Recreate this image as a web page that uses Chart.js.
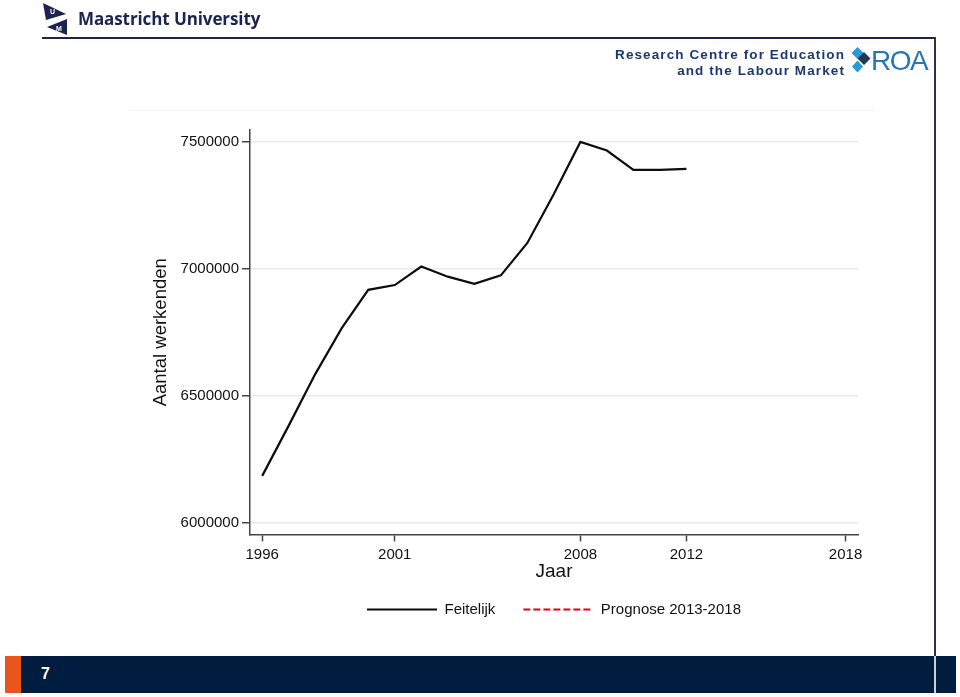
<!DOCTYPE html>
<html>
<head>
<meta charset="utf-8">
<title>Aantal werkenden</title>
<script src="https://cdn.jsdelivr.net/npm/chart.js@4.4.1/dist/chart.umd.min.js"></script>
<style>
  html, body { margin: 0; padding: 0; background: #fff; }
  body { width: 960px; height: 697px; position: relative; overflow: hidden; font-family: "Liberation Sans", Arial, sans-serif; }
  #chartBox { position: absolute; left: 0; top: 0; width: 960px; height: 697px; }

  /* page furniture */
  .frame-top { position: absolute; left: 42px; top: 37px; width: 894px; height: 2px; background: #1c2544; }
  .frame-right { position: absolute; left: 934px; top: 37px; width: 2px; height: 619px; background: #2a3150; }
  .plot-top { position: absolute; left: 130px; top: 110px; width: 745px; height: 1px; background: #f3f3f3; }
  .um-logo { position: absolute; left: 40px; top: 0; }
  .um-name { position: absolute; left: 78px; top: 7px; font-family: "Open Sans", sans-serif; font-weight: 700; font-size: 17px; color: #1d2350; letter-spacing: -0.1px; white-space: nowrap; }
  .roa-text { position: absolute; right: 115px; font-weight: 700; font-size: 13.5px; color: #1b3a6b; letter-spacing: 1.1px; white-space: nowrap; text-align: right; }
  .roa-logo { position: absolute; left: 850px; top: 46px; }
  .roa-word { position: absolute; left: 871px; top: 45px; font-size: 28px; color: #2876b4; letter-spacing: -1.5px; }
  .bar { position: absolute; left: 5px; top: 656px; width: 951px; height: 37px; background: #001d3f; }
  .bar-orange { position: absolute; left: 5px; top: 656px; width: 16px; height: 37px; background: #e8561b; }
  .bar-split { position: absolute; left: 934px; top: 656px; width: 2px; height: 37px; background: #c7cfdc; }
  .page-no { position: absolute; left: 41px; top: 665px; font-weight: 700; font-size: 16px; color: #fff; }
</style>
</head>
<body>
<div id="chartBox"><canvas id="chart"></canvas></div>

<div class="frame-top"></div>
<div class="frame-right"></div>
<div class="plot-top"></div>

<svg class="um-logo" width="30" height="38" viewBox="40 0 30 38">
  <polygon points="43,3 66,14 46,20" fill="#1d2350"/>
  <polygon points="67,19 67,35 47,27" fill="#1d2350"/>
  <text x="50" y="14" font-size="7" font-weight="700" fill="#fff" font-family="Liberation Sans, Arial">U</text>
  <text x="56" y="31" font-size="7" font-weight="700" fill="#fff" font-family="Liberation Sans, Arial">M</text>
</svg>
<div class="um-name">Maastricht University</div>

<div class="roa-text" style="top:47px">Research Centre for Education</div>
<div class="roa-text" style="top:63px">and the Labour Market</div>
<svg class="roa-logo" width="22" height="28" viewBox="850 46 22 28">
  <polygon points="857.5,47 863.5,53 857.5,59 851.5,53" fill="#2a9ad6"/>
  <polygon points="864,52 870.5,58.5 864,65 857.5,58.5" fill="#1f3a56"/>
  <polygon points="857.5,60.5 863,66.5 857.5,72.5 852,66.5" fill="#2a9ad6"/>
</svg>
<div class="roa-word">ROA</div>

<div class="bar"></div>
<div class="bar-orange"></div>
<div class="bar-split"></div>
<div class="page-no">7</div>

<script>
// =================== DATA ===================
const years = [1996, 1997, 1998, 1999, 2000, 2001, 2002, 2003, 2004,
               2005, 2006, 2007, 2008, 2009, 2010, 2011, 2012];
const feitelijk = [6185000, 6383000, 6586000, 6767000, 6918000, 6937000, 7010000, 6970000, 6942000,
                   6975000, 7103000, 7296000, 7501000, 7467000, 7391000, 7391000, 7395000];

// forecast only shows up in the legend, no line is drawn in the picture
const prognoseYears = [];
const prognose = [];

const xTicks = [1996, 2001, 2008, 2012, 2018];
const yTicks = [6000000, 6500000, 7000000, 7500000];

// =================== CHART ===================
const FONT = '"Liberation Sans", Arial, sans-serif';
const INK = "#111";
const AXIS = "#444";

const toPoints = (xs, ys) => xs.map((x, i) => ({ x: x, y: ys[i] }));

const ctx = document.getElementById("chart");

const chart = new Chart(ctx, {
  type: "line",
  data: {
    datasets: [
      {
        label: "Feitelijk",
        data: toPoints(years, feitelijk),
        borderColor: "#0d0d0d",
        borderWidth: 2.2,
        pointRadius: 0,
        tension: 0,
        fill: false,
      },
      {
        label: "Prognose 2013-2018",
        data: toPoints(prognoseYears, prognose),
        borderColor: "#e3000f",
        borderWidth: 2,
        borderDash: [7, 3],
        pointRadius: 0,
        fill: false,
      },
    ],
  },
  options: {
    responsive: true,
    maintainAspectRatio: false,
    animation: false,
    layout: { padding: { left: 144, right: 102, top: 130, bottom: 70 } },
    plugins: {
      legend: {
        position: "bottom",
        fullSize: false,
        labels: {
          usePointStyle: true,
          pointStyle: "line",
          pointStyleWidth: 70,
          boxWidth: 70,
          padding: 28,
          color: INK,
          font: { family: FONT, size: 15 },
          // point style legend items lose the dataset dash, put it back
          generateLabels: (c) =>
            Chart.defaults.plugins.legend.labels.generateLabels(c).map((item) => {
              const ds = c.data.datasets[item.datasetIndex];
              item.lineDash = ds.borderDash || [];
              item.strokeStyle = ds.borderColor;
              item.lineWidth = ds.borderWidth;
              return item;
            }),
        },
      },
      tooltip: { enabled: false },
    },
    scales: {
      x: {
        type: "linear",
        min: 1995.54,
        max: 2018.47,
        afterBuildTicks: (s) => { s.ticks = xTicks.map((v) => ({ value: v })); },
        afterFit: (s) => { s.height = 39.5; },
        ticks: {
          callback: (v) => String(v),
          autoSkip: false,
          maxRotation: 0,
          padding: 4,
          color: INK,
          font: { family: FONT, size: 15 },
        },
        grid: { drawOnChartArea: false, tickLength: 7, tickColor: AXIS, tickWidth: 1.5 },
        border: { color: AXIS, width: 1.5 },
        title: {
          display: true,
          text: "Jaar",
          color: INK,
          font: { family: FONT, size: 19, lineHeight: 1 },
          padding: { top: 0, bottom: -7 },
        },
      },
      y: {
        min: 5954000,
        max: 7548000,
        afterBuildTicks: (s) => { s.ticks = yTicks.map((v) => ({ value: v })); },
        afterFit: (s) => { s.width = 106; },
        ticks: {
          callback: (v) => String(v),
          padding: 3,
          color: INK,
          font: { family: FONT, size: 15 },
        },
        grid: { color: "#e9e9e9", lineWidth: 1.5, tickLength: 8, tickColor: AXIS, tickWidth: 1.5 },
        border: { color: AXIS, width: 1.5 },
        title: {
          display: true,
          text: "Aantal werkenden",
          color: INK,
          font: { family: FONT, size: 18.5, lineHeight: 1.2 },
          padding: { top: 6, bottom: 0 },
        },
      },
    },
  },
});
</script>
</body>
</html>
